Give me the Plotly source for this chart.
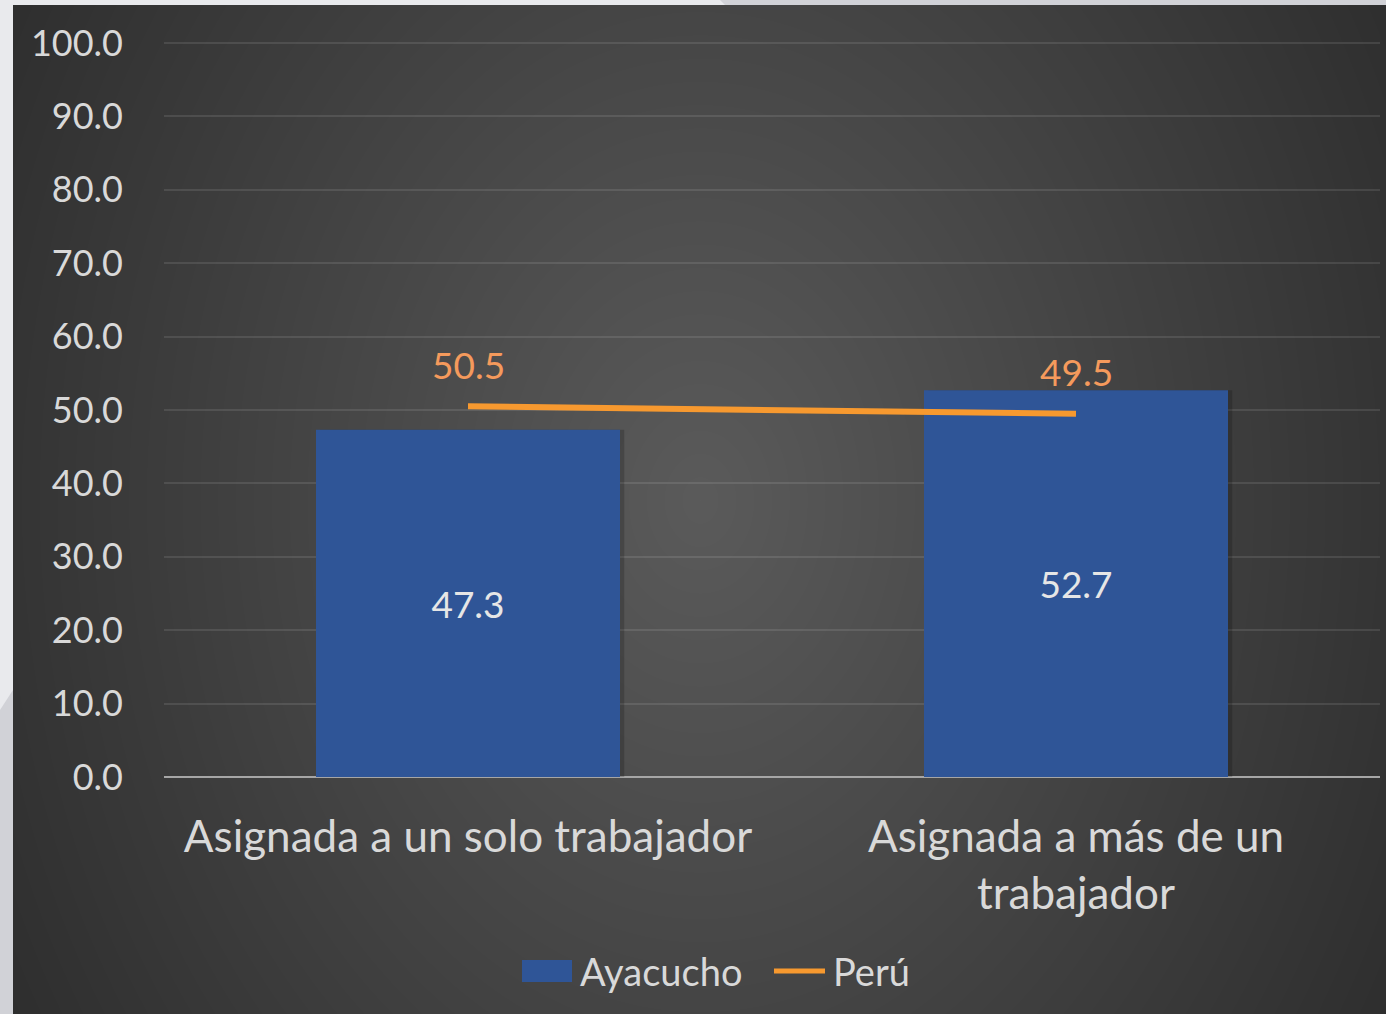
import base64
import struct
import zlib

import numpy as np
import plotly.graph_objects as go

# ---- data -------------------------------------------------------------
categories = ["Asignada a un solo trabajador", "Asignada a más de un<br>trabajador"]
ayacucho = [47.3, 52.7]
peru = [50.5, 49.5]
y_ticks = [0, 10, 20, 30, 40, 50, 60, 70, 80, 90, 100]
series_names = ["Ayacucho", "Perú"]

# ---- figure geometry ---------------------------------------------------
W, H = 1386, 1014
FONT = "Lato"
TXT = "#d9d9d9"
BLUE = "#2f5597"
ORANGE = "#f7992f"
Y_TOP = 100.2  # a hair above 100 so the top gridline is drawn


def radial_png(w, h, cx, cy):
    """Dark radial gradient used as the chart background."""
    yy, xx = np.mgrid[0:h, 0:w].astype(float)
    d = np.sqrt(((xx - cx) * 0.056) ** 2 + ((yy - cy) * 0.043) ** 2)
    v = np.clip(91 - d, 43, 91).astype(np.uint8)
    rgb = np.dstack([v, v, v])
    raw = b"".join(b"\x00" + rgb[r].tobytes() for r in range(h))

    def chunk(tag, data):
        c = struct.pack(">I", len(data)) + tag + data
        return c + struct.pack(">I", zlib.crc32(tag + data) & 0xFFFFFFFF)

    png = b"\x89PNG\r\n\x1a\n"
    png += chunk(b"IHDR", struct.pack(">IIBBBBB", w, h, 8, 2, 0, 0, 0))
    png += chunk(b"IDAT", zlib.compress(raw, 9))
    png += chunk(b"IEND", b"")
    return "data:image/png;base64," + base64.b64encode(png).decode()


BX0, BY0 = 13, 5
bg_w, bg_h = W - BX0, H - BY0
bg_src = radial_png(bg_w, bg_h, 700 - BX0, 500 - BY0)

fig = go.Figure()

# soft shadow to the right of each bar
fig.add_trace(go.Bar(
    x=categories, y=ayacucho, width=0.5, offset=-0.25 + 0.007,
    marker=dict(color="rgba(0,0,0,0.18)", line=dict(width=0)),
    hoverinfo="skip", showlegend=False,
))

fig.add_trace(go.Bar(
    x=categories, y=ayacucho, name=series_names[0], width=0.5, offset=-0.25,
    marker=dict(color=BLUE, line=dict(width=0)),
    text=[f"{v:.1f}" for v in ayacucho], textposition="inside",
    insidetextanchor="middle", textangle=0,
    textfont=dict(family=FONT, size=37, color="#e6e6e6"),
))

fig.add_trace(go.Scatter(
    x=categories, y=peru, name=series_names[1], mode="lines",
    line=dict(color=ORANGE, width=6),
))

for c, v in zip(categories, peru):
    fig.add_annotation(
        x=c, y=v, text=f"{v:.1f}", showarrow=False, yshift=42,
        font=dict(family=FONT, size=37, color="#f59a5c"),
    )

# plot area in pixels: left 164, right 1380, value 0 at y=777, 100 at y=43
px_per_unit = (777 - 43) / 100
x0, x1 = 164 / W, 1380 / W
y0 = (H - 777) / H
y1 = (H - 777 + px_per_unit * Y_TOP) / H

# ---- legend drawn by hand (swatch + label) -----------------------------
LEG_Y = 1 - 971 / H
legend_shapes = [
    dict(type="rect", xref="paper", yref="paper",
         x0=522 / W, x1=572 / W, y0=LEG_Y - 11 / H, y1=LEG_Y + 11 / H,
         fillcolor=BLUE, line=dict(width=0)),
    dict(type="line", xref="paper", yref="paper",
         x0=774 / W, x1=825 / W, y0=LEG_Y, y1=LEG_Y,
         line=dict(color=ORANGE, width=5)),
]
for name, lx in zip(series_names, [578, 831]):
    fig.add_annotation(
        xref="paper", yref="paper", x=lx / W, y=LEG_Y, xanchor="left",
        yanchor="middle", text=name, showarrow=False,
        font=dict(family=FONT, size=38, color=TXT),
    )

fig.update_layout(
    template="none",
    width=W, height=H,
    margin=dict(l=0, r=0, t=0, b=0, autoexpand=False),
    paper_bgcolor="#e9eaed",
    plot_bgcolor="rgba(0,0,0,0)",
    barmode="overlay",
    showlegend=False,
    font=dict(family=FONT, color=TXT),
    images=[dict(
        source=bg_src, xref="paper", yref="paper",
        x=BX0 / W, y=1 - BY0 / H, sizex=bg_w / W, sizey=bg_h / H,
        xanchor="left", yanchor="top", sizing="stretch", layer="below",
    )],
    xaxis=dict(
        domain=[x0, x1], automargin=False, showgrid=False, showline=False,
        ticks="", zeroline=False,
        tickfont=dict(family=FONT, size=44, color=TXT),
        ticklabelstandoff=30,
    ),
    yaxis=dict(
        domain=[y0, y1], range=[0, Y_TOP], tickvals=y_ticks, automargin=False,
        tickformat=".1f", showline=False, ticks="",
        gridcolor="rgba(255,255,255,0.10)", gridwidth=2,
        zeroline=True, zerolinecolor="#a6a6a6", zerolinewidth=2,
        tickfont=dict(family=FONT, size=36, color=TXT),
        ticklabelstandoff=40,
    ),
    shapes=legend_shapes + [
        # light frame pieces around the dark panel
        dict(type="path", xref="paper", yref="paper", layer="below",
             path=f"M 0 0 L {BX0 / W} 0 L {BX0 / W} {1 - 690 / H} L 0 {1 - 710 / H} Z",
             fillcolor="#d1d2d7", line=dict(width=0)),
        dict(type="path", xref="paper", yref="paper", layer="below",
             path=f"M {720 / W} 1 L 1 1 L 1 {1 - BY0 / H} L {725 / W} {1 - BY0 / H} Z",
             fillcolor="#d1d2d7", line=dict(width=0)),
    ],
)

fig.write_html("out.html")
